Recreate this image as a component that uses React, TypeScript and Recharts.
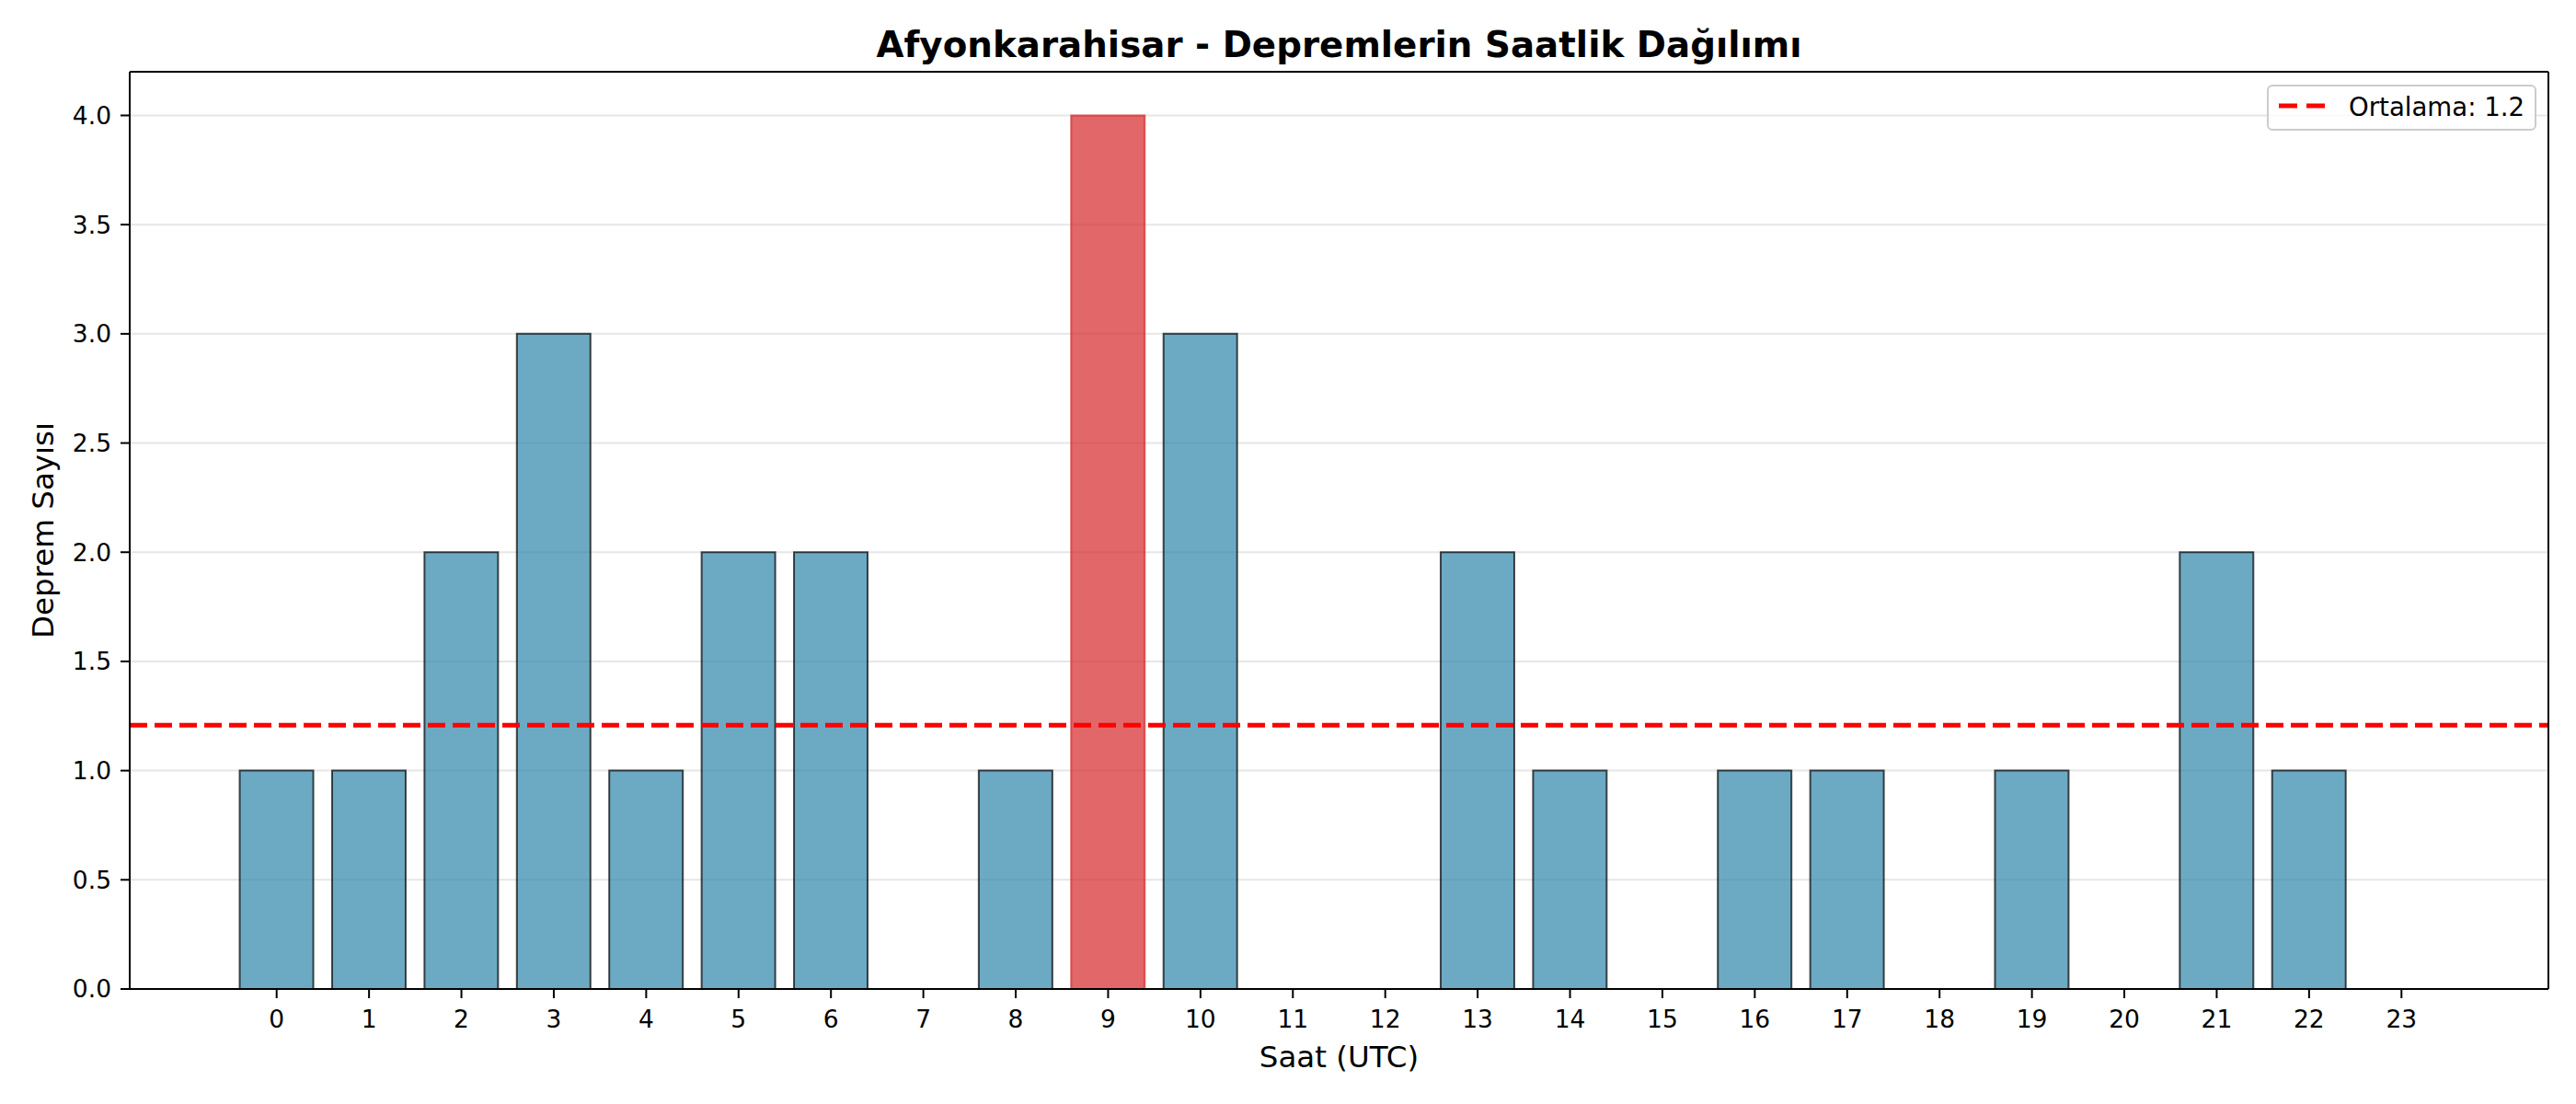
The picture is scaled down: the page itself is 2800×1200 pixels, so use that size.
import {
  ComposedChart,
  Bar,
  Line,
  XAxis,
  YAxis,
  CartesianGrid,
  ReferenceLine,
  Legend,
  Cell,
  Label,
} from "recharts";

const HOURS = [
  0, 1, 2, 3, 4, 5, 6, 7, 8, 9, 10, 11, 12, 13, 14, 15, 16, 17, 18, 19, 20, 21,
  22, 23,
];
const COUNTS = [
  1, 1, 2, 3, 1, 2, 2, 0, 1, 4, 3, 0, 0, 2, 1, 0, 1, 1, 0, 1, 0, 2, 1, 0,
];
const Y_TICKS = [0, 0.5, 1, 1.5, 2, 2.5, 3, 3.5, 4];

const TITLE = "Afyonkarahisar - Depremlerin Saatlik Dağılımı";
const X_LABEL = "Saat (UTC)";
const Y_LABEL = "Deprem Sayısı";

const FONT = "DejaVu Sans";
const BAR_FILL = "#2E86AB";
const PEAK_FILL = "#d62728";
const MEAN_COLOR = "#ff0000";

const data = HOURS.map((h, i) => ({ hour: h, count: COUNTS[i] }));
const mean = COUNTS.reduce((a, b) => a + b, 0) / COUNTS.length;
const peak = Math.max(...COUNTS);

const tickStyle = { fill: "#000", fontSize: 26.5, fontFamily: FONT };
const axisLine = { stroke: "#000", strokeWidth: 2 };

const renderLegend = () => (
  <div
    style={{
      boxSizing: "border-box",
      width: 293,
      height: 50,
      border: "2px solid #cccccc",
      borderRadius: 6,
      background: "rgba(255,255,255,0.8)",
      position: "relative",
      fontFamily: FONT,
      fontSize: 27.6,
      lineHeight: 1,
      color: "#000",
    }}
  >
    <svg
      width={60}
      height={20}
      style={{ position: "absolute", left: 9, top: 11 }}
    >
      <line
        x1={2}
        x2={52}
        y1={10}
        y2={10}
        stroke={MEAN_COLOR}
        strokeWidth={5}
        strokeDasharray="20 10"
      />
    </svg>
    <span style={{ position: "absolute", left: 87, top: 9 }}>
      Ortalama: {mean.toFixed(1)}
    </span>
  </div>
);

export default function App() {
  return (
    <div
      style={{
        position: "absolute",
        left: 0,
        top: 0,
        width: 2800,
        height: 1200,
        background: "#fff",
      }}
    >
      <svg
        width={2800}
        height={78}
        style={{ position: "absolute", left: 0, top: 0 }}
      >
        <text
          x={1455.5}
          y={62}
          textAnchor="middle"
          fontFamily={FONT}
          fontWeight="bold"
          fontSize={38.8}
          fill="#000"
        >
          {TITLE}
        </text>
      </svg>
      <ComposedChart
        width={2800}
        height={1200}
        data={data}
        margin={{ top: 77, right: 29, bottom: 0, left: 0 }}
        barCategoryGap="10%"
      >
        <CartesianGrid vertical={false} stroke="#e6e6e6" strokeWidth={2} />
        <XAxis
          dataKey="hour"
          type="category"
          height={125}
          padding={{ left: 109.5, right: 109.5 }}
          axisLine={axisLine}
          tickLine={axisLine}
          tickSize={10}
          tickMargin={13}
          tick={tickStyle}
          interval={0}
        >
          <Label
            content={({ viewBox }: any) => (
              <text
                x={viewBox.x + viewBox.width / 2}
                y={viewBox.y + 85}
                textAnchor="middle"
                fontFamily={FONT}
                fontSize={32.5}
                fill="#000"
              >
                {X_LABEL}
              </text>
            )}
          />
        </XAxis>
        <XAxis
          xAxisId="top"
          dataKey="hour"
          orientation="top"
          height={1}
          padding={{ left: 109.5, right: 109.5 }}
          tick={false}
          tickLine={false}
          axisLine={axisLine}
        />
        <YAxis
          type="number"
          domain={[0, 4.2]}
          ticks={Y_TICKS}
          width={141}
          axisLine={axisLine}
          tickLine={axisLine}
          tickSize={10}
          tickMargin={10}
          tick={tickStyle}
          tickFormatter={(v: number) => v.toFixed(1)}
          allowDataOverflow
        >
          <Label
            content={({ viewBox }: any) => {
              const cy = viewBox.y + viewBox.height / 2;
              return (
                <text
                  transform={`translate(58, ${cy}) rotate(-90)`}
                  textAnchor="middle"
                  fontFamily={FONT}
                  fontSize={32.5}
                  fill="#000"
                >
                  {Y_LABEL}
                </text>
              );
            }}
          />
        </YAxis>
        <YAxis
          yAxisId="right"
          orientation="right"
          type="number"
          domain={[0, 4.2]}
          width={1}
          tick={false}
          tickLine={false}
          axisLine={axisLine}
        />
        <Legend
          content={renderLegend}
          layout="horizontal"
          verticalAlign="middle"
          align="center"
          wrapperStyle={{ top: 92, left: 2464, width: 293, height: 50 }}
        />
        <Bar dataKey="count" isAnimationActive={false} strokeWidth={2}>
          {COUNTS.map((c, i) => (
            <Cell
              key={i}
              fill={c === peak ? PEAK_FILL : BAR_FILL}
              fillOpacity={0.7}
              stroke={c === peak ? PEAK_FILL : "#000"}
              strokeOpacity={0.7}
            />
          ))}
        </Bar>
        <Line
          dataKey="count"
          xAxisId="top"
          yAxisId="right"
          stroke="none"
          dot={false}
          activeDot={false}
          legendType="none"
          isAnimationActive={false}
        />
        <ReferenceLine
          y={mean}
          stroke={MEAN_COLOR}
          strokeWidth={5}
          strokeDasharray="19 8"
        />
      </ComposedChart>
    </div>
  );
}
